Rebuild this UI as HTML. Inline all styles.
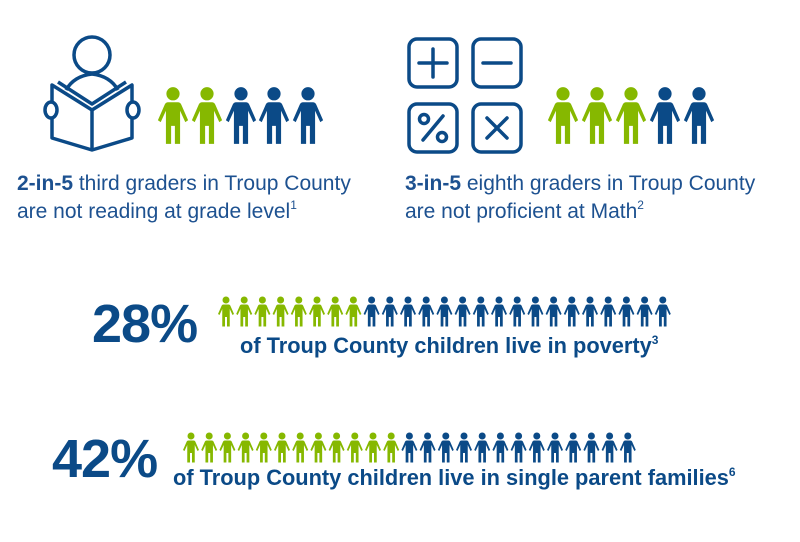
<!DOCTYPE html>
<html><head><meta charset="utf-8"><style>
body{margin:0;background:#fff;width:800px;height:542px;overflow:hidden;position:relative;font-family:"Liberation Sans",Arial,sans-serif;color:#0b4a87}
.t{position:absolute;font-size:21px;line-height:28px;color:#1d5190;white-space:nowrap}
.t sup{font-size:12px;vertical-align:9px;line-height:0}
.big{position:absolute;font-weight:bold;font-size:54px;color:#0b4a87;letter-spacing:-1px}
.sub{position:absolute;font-weight:bold;font-size:21.8px;color:#0b4a87;white-space:nowrap}
.sub sup{font-size:12px;vertical-align:9px;line-height:0}
svg{position:absolute;left:0;top:0}
</style></head><body>
<svg width="800" height="542" viewBox="0 0 800 542">
<defs>
<symbol id="p" viewBox="0 0 36 62"><circle cx="18" cy="8" r="7"/><path d="M13,17 H23 Q26,17 27,20 L34,36 L31,38 L25.5,26 V61 H20 V42 H16 V61 H10.5 V26 L5,38 L2,36 L9,20 Q10,17 13,17 Z"/></symbol>
</defs>
<g fill="none" stroke="#0b4a87" stroke-width="3.5" stroke-linejoin="round">
<circle cx="92" cy="55" r="18"/>
<path d="M66,90 Q74,76 92,74 Q110,76 118,90"/>
<path d="M52,85 L92,110 L132,85 L132,138 L92,150 L52,138 Z"/>
<path d="M92,110 V150"/>
<path d="M58,82 L92,104 L126,82"/>
<ellipse cx="51" cy="110" rx="6" ry="8" fill="#fff"/>
<ellipse cx="133" cy="110" rx="6" ry="8" fill="#fff"/>
</g>
<g fill="none" stroke="#0b4a87" stroke-width="3.5" stroke-linecap="round">
<rect x="409" y="39" width="48" height="48" rx="8"/>
<rect x="473" y="39" width="48" height="48" rx="8"/>
<rect x="409" y="104" width="48" height="48" rx="8"/>
<rect x="473" y="104" width="48" height="48" rx="8"/>
<path d="M419,63 H447 M433,49 V77"/>
<path d="M483,63 H511"/>
<path d="M423,140 L443,116"/>
<circle cx="424" cy="119" r="4.5"/><circle cx="442" cy="137" r="4.5"/>
<path d="M487,118 L507,138 M507,118 L487,138"/>
</g>
<g fill="#86b800"><use href="#p" x="156" y="85" width="34" height="61"/><use href="#p" x="190" y="85" width="34" height="61"/></g>
<g fill="#0b4a87"><use href="#p" x="224" y="85" width="34" height="61"/><use href="#p" x="257" y="85" width="34" height="61"/><use href="#p" x="291" y="85" width="34" height="61"/></g>
<g fill="#86b800"><use href="#p" x="546" y="85" width="34" height="61"/><use href="#p" x="580" y="85" width="34" height="61"/><use href="#p" x="614" y="85" width="34" height="61"/></g>
<g fill="#0b4a87"><use href="#p" x="648" y="85" width="34" height="61"/><use href="#p" x="682" y="85" width="34" height="61"/></g>
<g id="r3"></g><g id="r4"></g>
</svg>
<div class="t" style="left:17px;top:170px"><b>2-in-5</b> third graders in Troup County<br>are not reading at grade level<sup>1</sup></div>
<div class="t" style="left:405px;top:170px"><b>3-in-5</b> eighth graders in Troup County<br>are not proficient at Math<sup>2</sup></div>
<div class="big" style="left:92px;top:293px">28%</div>
<div class="sub" style="left:240px;top:333px">of Troup County children live in poverty<sup>3</sup></div>
<div class="big" style="left:52px;top:428px">42%</div>
<div class="sub" style="left:173px;top:465px">of Troup County children live in single parent families<sup>6</sup></div>
<script>
function row(id,x0,y,n,g){var s='';for(var i=0;i<n;i++){s+='<use href="#p" x="'+(x0+i*18.2)+'" y="'+y+'" width="18" height="31" fill="'+(i<g?'#86b800':'#0b4a87')+'"/>';}document.getElementById(id).outerHTML='<g>'+s+'</g>';}
row('r3',217,296,25,8);
row('r4',182,432,25,12);
</script>
</body></html>
